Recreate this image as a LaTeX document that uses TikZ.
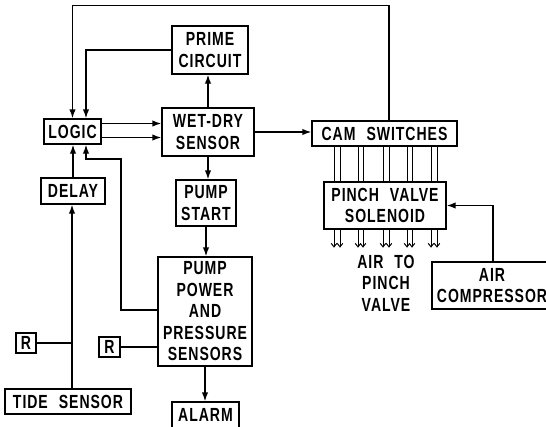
\documentclass[tikz,border=0pt]{standalone}
\usepackage{fontspec}
\setmainfont[FakeStretch=0.74,LetterSpace=5]{Liberation Sans Bold}
\usetikzlibrary{arrows.meta,calc}
\newcommand{\wsp}{\hspace{11pt}}
\begin{document}
\begin{tikzpicture}[x=1pt,y=-1pt,
  box/.style={draw,line width=1.4pt,inner sep=0pt,align=center,font=\fontsize{19}{21.5}\selectfont},
  lbl/.style={inner sep=0pt,align=center,font=\fontsize{19}{21.5}\selectfont},
  wire/.style={line width=1.4pt},
  arr/.style={wire,-{Latex[length=9pt,width=6.5pt]}},
  small/.style={line width=1pt,-{Straight Barb[length=3.5pt,width=5.5pt]}}]
\useasboundingbox (0,0) rectangle (546,426);
\node[box,minimum width=76pt,minimum height=48pt] (prime) at (210,50) {PRIME\\CIRCUIT};
\node[box,minimum width=57pt,minimum height=25pt] (logic) at (72.5,131.5) {LOGIC};
\node[box,minimum width=92pt,minimum height=48pt] (wet) at (208,132) {WET-DRY\\SENSOR};
\node[box,minimum width=64pt,minimum height=26pt] (delay) at (73,191) {DELAY};
\node[box,minimum width=60pt,minimum height=46pt] (pstart) at (206,203) {PUMP\\START};
\node[box,minimum width=94pt,minimum height=109pt] (pp) at (205,311.5) {PUMP\\POWER\\AND\\PRESSURE\\SENSORS};
\node[box,minimum width=67pt,minimum height=26pt] (alarm) at (205.5,415) {ALARM};
\node[box,minimum width=145pt,minimum height=25pt] (cam) at (384.5,133.5) {CAM\wsp SWITCHES};
\node[box,minimum width=122pt,minimum height=47pt] (pinch) at (385,205.5) {PINCH\wsp VALVE\\SOLENOID};
\node[box,minimum width=120pt,minimum height=47pt] (air) at (492,285.5) {AIR\\COMPRESSOR};
\node[box,minimum width=20pt,minimum height=20pt] (r1) at (26,343) {R};
\node[box,minimum width=21pt,minimum height=20pt] (r2) at (109.5,347) {R};
\node[box,minimum width=126pt,minimum height=25pt] (tide) at (68,401.5) {TIDE\wsp SENSOR};
\node[lbl] (airtxt) at (386,283) {AIR\wsp TO\\PINCH\\VALVE};
% connectors
\draw[arr] ($(cam.north)+(4.5,0)$) -- ++(0,-115) -| (logic.north);
\draw[arr] (prime.west) -| ($(logic.north)+(13.5,0)$);
\draw[arr] ($(logic.east)+(0,-8)$) -- ($(wet.west)+(0,-8.5)$);
\draw[arr] ($(logic.east)+(0,6)$) -- ($(wet.west)+(0,5.5)$);
\draw[arr] (wet.north) -- (wet.north |- prime.south);
\draw[arr] (wet.south) -- (wet.south |- pstart.north);
\draw[arr] (wet.east) -- (wet.east -| cam.west);
\draw[arr] (pstart.south) -- (pstart.south |- pp.north);
\draw[arr] (pp.south) -- (pp.south |- alarm.north);
\draw[arr] ($(pp.west)+(0,-1.5)$) -| (121,159) -| ($(logic.south)+(13.5,0)$);
\draw[arr] (delay.north) -- (delay.north |- logic.south);
\draw[arr] (tide.north -| 72,0) -- (72,0 |- delay.south);
\draw[wire] (r1.east) -- (r1.east -| 72,0);
\draw[wire] (r2.east) -- (r2.east -| pp.west);
\draw[arr] (air.north -| 493,0) |- (pinch.east);
\foreach \x in {334,340,358,363,383,389,407,412,431,437}
  \draw[line width=1pt] (\x,0 |- cam.south) -- (\x,0 |- pinch.north);
\foreach \x in {334,340,358,363,383,389,407,412,431,437}
  \draw[small] (\x,0 |- pinch.south) -- ++(0,18);
\end{tikzpicture}
\end{document}
